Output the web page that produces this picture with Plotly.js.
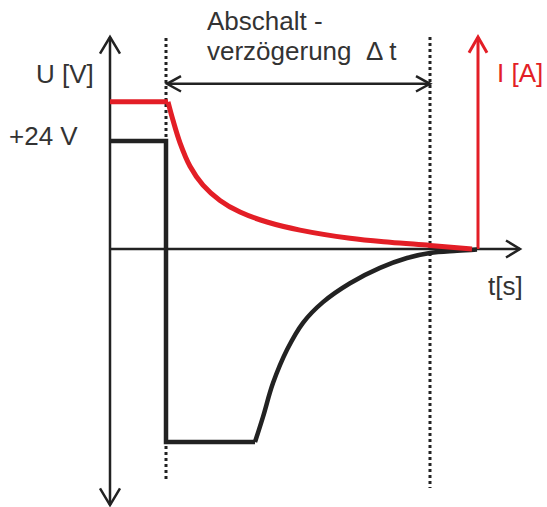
<!DOCTYPE html>
<html>
<head>
<meta charset="utf-8">
<script src="https://cdn.plot.ly/plotly-3.0.1.min.js"></script>
<style>html,body{margin:0;padding:0;background:#fff}#chart{width:547px;height:507px}</style>
</head>
<body>
<div id="chart"></div>
<script>
// Voltage U [V] over time t (arbitrary time units): step part and recovery curve
const voltStepT = [0, 5.6, 5.6, 14.5];
const voltStepU = [24, 24, -42.9, -42.9];
const voltCurveT = [14.5, 15.3, 16.3, 17.7, 19.3, 21.3, 24.0, 27.0, 29.7, 32.0, 34.7, 36.7];
const voltCurveU = [-42.9, -37.3, -29.8, -22.4, -16.4, -11.8, -7.6, -4.2, -2.0, -0.9, -0.4, -0.1];
// Current I [A] (drawn on the same vertical scale): constant part and decay
const currFlatT = [0, 5.8];
const currFlatI = [32.7, 32.7];
const currDecayT = [5.8, 6.3, 7.0, 8.0, 9.3, 11.0, 13.0, 15.7, 19.0, 24.0, 28.0, 32.0, 36.2];
const currDecayI = [32.7, 28.6, 23.6, 18.4, 14.2, 10.8, 8.2, 6.0, 4.2, 2.4, 1.5, 0.8, 0];
// Markers on the time axis
const switchOffT = 5.6;
const delayEndT = 32.0;
const labels = {
  u: "U [V]", v24: "+24 V", i: "I [A]", t: "t[s]",
  line1: "Abschalt -", line2: "verzögerung\u00a0\u00a0Δ t"
};

const BLK = "#222222", RED = "#e31e26", TXT = "#333333";
const FONT = "Liberation Sans, Arial, sans-serif";

const traces = [
  {x: voltStepT, y: voltStepU, mode: "lines", line: {color: BLK, width: 4.5, shape: "linear"}, hoverinfo: "skip"},
  {x: voltCurveT, y: voltCurveU, mode: "lines", line: {color: BLK, width: 4.5, shape: "spline", smoothing: 1}, hoverinfo: "skip"},
  {x: currFlatT, y: currFlatI, mode: "lines", line: {color: RED, width: 5, shape: "linear"}, hoverinfo: "skip"},
  {x: currDecayT, y: currDecayI, mode: "lines", line: {color: RED, width: 5, shape: "spline", smoothing: 1}, hoverinfo: "skip"}
];

function seg(x0, y0, x1, y1, color, width, dash, layer) {
  return {type: "line", xref: "x", yref: "y", x0, y0, x1, y1,
          line: {color, width, dash: dash || "solid"}, layer: layer || "below"};
}
function chevron(pts, color, width) {
  const d = "M" + pts.map(p => p[0] + "," + p[1]).join(" L");
  return {type: "path", xref: "x", yref: "y", path: d, line: {color, width}, layer: "above"};
}

const shapes = [
  // vertical U axis with arrows both ends
  seg(0, 47.1, 0, -56.9, BLK, 2.5),
  chevron([[-1, 43.4], [0, 47.1], [1, 43.4]], BLK, 2.5),
  chevron([[-1, -53.2], [0, -56.9], [1, -53.2]], BLK, 2.5),
  // time axis
  seg(0, 0, 41, 0, BLK, 2.5),
  chevron([[39.6, 1.9], [41, 0], [39.6, -1.9]], BLK, 2.5),
  // current axis (red)
  seg(36.8, 0, 36.8, 47.1, RED, 3),
  chevron([[35.9, 43.6], [36.8, 47.1], [37.7, 43.6]], RED, 3),
  // dotted markers
  seg(switchOffT, 46.9, switchOffT, -51.3, BLK, 3, "dot"),
  seg(delayEndT, 47.1, delayEndT, -53.1, BLK, 3, "dot"),
  // delay double arrow
  seg(switchOffT + 0.1, 36.7, delayEndT, 36.7, BLK, 2.5),
  chevron([[7.1, 38.4], [switchOffT + 0.1, 36.7], [7.1, 35.0]], BLK, 2.5),
  chevron([[30.6, 38.4], [delayEndT, 36.7], [30.6, 35.0]], BLK, 2.5)
];

function txt(text, x, y, xanchor, color) {
  return {text, x, y, xref: "x", yref: "y", xanchor: xanchor || "left", yanchor: "middle",
          showarrow: false, font: {family: FONT, size: 26, color: color || TXT}};
}
const annotations = [
  txt(labels.u, -1.4, 38.9, "right"),
  txt(labels.v24, -3.0, 25.1, "right"),
  txt(labels.i, 43.5, 39.1, "right", RED),
  txt(labels.t, 37.6, -8.2, "left"),
  txt(labels.line1, 9.5, 50.7, "left"),
  txt(labels.line2, 9.5, 44.0, "left")
];

const layout = {
  width: 547, height: 507,
  margin: {l: 0, r: 0, t: 0, b: 0},
  paper_bgcolor: "#ffffff", plot_bgcolor: "#ffffff",
  showlegend: false,
  xaxis: {range: [-11, 43.7], visible: false, fixedrange: true},
  yaxis: {range: [-57.33, 55.33], visible: false, fixedrange: true},
  shapes, annotations
};
Plotly.newPlot("chart", traces, layout, {displayModeBar: false, staticPlot: true});
</script>
</body>
</html>
